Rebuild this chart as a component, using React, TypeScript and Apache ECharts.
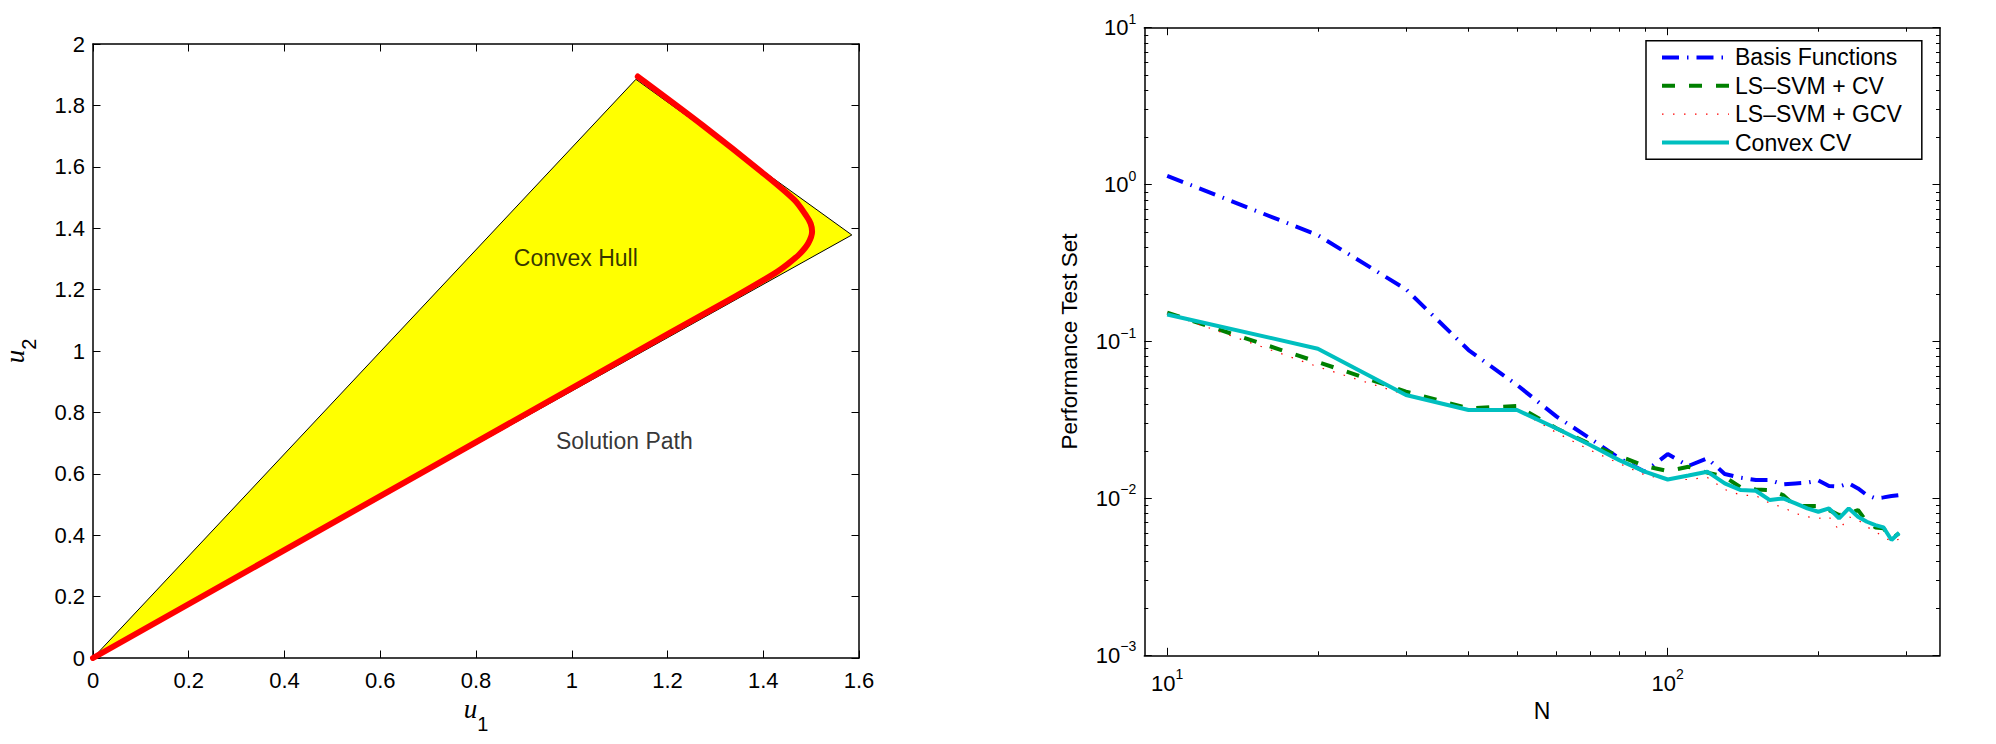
import React, { useEffect, useRef } from "react";
import * as echarts from "echarts";

// ---------- Left panel data ----------
const HULL_U1 = [0, 1.134, 1.585];
const HULL_U2 = [0, 1.885, 1.378];
const PATH_U1 = [0, 1.204, 1.341, 1.424, 1.451, 1.476, 1.494, 1.502, 1.499, 1.49, 1.465, 1.396, 1.273, 1.138];
const PATH_U2 = [0, 1.058, 1.177, 1.253, 1.283, 1.316, 1.351, 1.389, 1.415, 1.44, 1.492, 1.584, 1.736, 1.894];
const ANNOTATIONS = [
  { u1: 0.88, u2: 1.3, text: "Convex Hull" },
  { u1: 0.968, u2: 0.705, text: "Solution Path" },
];

// ---------- Right panel data ----------
const N_VALUES = [10, 20, 30, 40, 50, 60, 70, 80, 90, 100, 110, 120, 130, 140, 150, 160, 170, 180, 190, 200, 210, 220, 230, 240, 250, 260, 270, 280, 290];
const BASIS = [1.138, 0.476, 0.215, 0.0882, 0.0528, 0.0332, 0.0241, 0.018, 0.0148, 0.01916, 0.0161, 0.018, 0.01429, 0.01355, 0.01309, 0.0131, 0.01228, 0.01246, 0.0126, 0.013, 0.012, 0.0119, 0.01246, 0.01158, 0.0105, 0.01, 0.01015, 0.01035, 0.0105];
const LSSVM_CV = [0.1528, 0.074, 0.0479, 0.0375, 0.0388, 0.0279, 0.0222, 0.01862, 0.0161, 0.01493, 0.0159, 0.01459, 0.01374, 0.01175, 0.0114, 0.0113, 0.0105, 0.00894, 0.00894, 0.00894, 0.00843, 0.00783, 0.00802, 0.00843, 0.0071, 0.00653, 0.00644, 0.00556, 0.00598];
const LSSVM_GCV = [0.152, 0.069, 0.0456, 0.0369, 0.0369, 0.0262, 0.0203, 0.0167, 0.0141, 0.0132, 0.0132, 0.0136, 0.0114, 0.0105, 0.0104, 0.0093, 0.00877, 0.00802, 0.00764, 0.00746, 0.00764, 0.00628, 0.00764, 0.0073, 0.0066, 0.00613, 0.0057, 0.0053, 0.0055];
const CONVEX_CV = [0.1486, 0.09, 0.0456, 0.0366, 0.0366, 0.0279, 0.0219, 0.01754, 0.0148, 0.0132, 0.014, 0.0148, 0.01246, 0.0113, 0.01119, 0.00976, 0.01, 0.00929, 0.00864, 0.00822, 0.00864, 0.00746, 0.00864, 0.00764, 0.0071, 0.00676, 0.00653, 0.00543, 0.00604];
const SERIES_NAMES = ["Basis Functions", "LS–SVM + CV", "LS–SVM + GCV", "Convex CV"];

const X_MAJOR = [10, 100];
const X_MINOR = [20, 30, 40, 50, 60, 70, 80, 90, 200, 300];
const Y_MAJOR = [0.001, 0.01, 0.1, 1, 10];
const Y_MINOR: number[] = [];
[0.001, 0.01, 0.1, 1].forEach((d) => {
  for (let k = 2; k <= 9; k++) Y_MINOR.push(+(d * k).toPrecision(3));
});

const SANS = "'Liberation Sans', Arial, Helvetica, sans-serif";
const SERIF = "'Liberation Serif', 'Times New Roman', serif";

const LINE_STYLES = [
  { color: "#0000ff", width: 4, type: [17, 8, 1.5, 8] },
  { color: "#008000", width: 4, type: [13, 14] },
  { color: "#ff0000", width: 1.2, type: [1.5, 9.5] },
  { color: "#00bfbf", width: 4, type: "solid" },
];

const supFormatter = (v: number) => {
  const e = Math.round(Math.log10(v));
  const es = e < 0 ? "\u2212" + -e : String(e);
  return `{b|10}{e|${es}}`;
};
const supRich = {
  b: { fontSize: 22, fontFamily: SANS, color: "#000" },
  e: { fontSize: 14, fontFamily: SANS, color: "#000", padding: [0, 0, 18, 0] },
};

function buildOption(): any {
  const axisLine = { show: true, onZero: false, lineStyle: { color: "#000", width: 1.5 } };
  const noLine = { show: false, onZero: false };
  const majorTick = () => ({ show: true, inside: true, length: 7.5, lineStyle: { color: "#000", width: 1 } });
  const noTick = { show: false };
  const hiddenLabel = { show: false };
  const nameRich = {
    i: { fontFamily: SERIF, fontStyle: "italic", fontSize: 27, color: "#000" },
    s: { fontFamily: SANS, fontSize: 20, color: "#000", padding: [29, 0, 0, 0] },
  };

  const linX = (pos: string, labels: boolean) => ({
    type: "value", gridIndex: 0, position: pos, min: 0, max: 1.6, interval: 0.2,
    axisLine, axisTick: majorTick(), splitLine: { show: false },
    axisLabel: labels ? { show: true, fontSize: 22, fontFamily: SANS, color: "#000", margin: 11 } : hiddenLabel,
  });
  const linY = (pos: string) => ({
    type: "value", gridIndex: 0, position: pos, min: 0, max: 2, interval: 0.2,
    axisLine, axisTick: majorTick(), splitLine: { show: false }, axisLabel: hiddenLabel,
  });
  // labels and name of the left panel's y axis (kept on their own axis so the frame's ticks stay inside)
  const linYLabels = {
    type: "value", gridIndex: 0, position: "left", min: 0, max: 2, interval: 0.2,
    axisLine: noLine, axisTick: noTick, splitLine: { show: false },
    axisLabel: { show: true, fontSize: 22, fontFamily: SANS, color: "#000", margin: 8 },
    name: "{i|u}{s|2}", nameLocation: "middle", nameGap: 54, nameRotate: 90, nameTextStyle: { rich: nameRich },
  };

  const logX = (pos: string, minor: boolean, labels: boolean) => ({
    type: "log", logBase: 10, gridIndex: 1, position: pos, min: 9, max: 350,
    axisLine: minor ? noLine : axisLine,
    axisTick: minor
      ? { show: true, inside: true, length: 4, customValues: X_MINOR, lineStyle: { color: "#000", width: 1 } }
      : { ...majorTick(), customValues: X_MAJOR },
    splitLine: { show: false }, minorTick: { show: false },
    axisLabel: labels
      ? { show: true, customValues: X_MAJOR, formatter: supFormatter, rich: supRich, margin: 12 }
      : hiddenLabel,
  });
  const logY = (pos: string, minor: boolean) => ({
    type: "log", logBase: 10, gridIndex: 1, position: pos, min: 0.001, max: 10,
    axisLine: minor ? noLine : axisLine,
    axisTick: minor
      ? { show: true, inside: true, length: 4, customValues: Y_MINOR, lineStyle: { color: "#000", width: 1 } }
      : { ...majorTick(), customValues: Y_MAJOR },
    splitLine: { show: false }, minorTick: { show: false }, axisLabel: hiddenLabel,
  });
  const logYLabels = {
    type: "log", logBase: 10, gridIndex: 1, position: "left", min: 0.001, max: 10,
    axisLine: noLine, axisTick: noTick, splitLine: { show: false }, minorTick: { show: false },
    axisLabel: { show: true, customValues: Y_MAJOR, formatter: supFormatter, rich: supRich, margin: 8 },
    name: "Performance Test Set", nameLocation: "middle", nameGap: 63, nameRotate: 90,
    nameTextStyle: { fontFamily: SANS, fontSize: 22.5, color: "#000" },
  };

  const xAxis: any[] = [
    { ...linX("bottom", true), name: "{i|u}{s|1}", nameLocation: "middle", nameGap: 22, nameTextStyle: { rich: nameRich } },
    linX("top", false),
    { ...logX("bottom", false, true), name: "N", nameLocation: "middle", nameGap: 43, nameTextStyle: { fontFamily: SANS, fontSize: 23, color: "#000" } },
    logX("top", false, false),
    logX("bottom", true, false),
    logX("top", true, false),
  ];
  // 0,1: left panel frame; 2: left panel labels; 3,4: log frame; 5,6: log minor ticks; 7: log labels
  const yAxis: any[] = [
    linY("left"),
    linY("right"),
    linYLabels,
    logY("left", false),
    logY("right", false),
    logY("left", true),
    logY("right", true),
    logYLabels,
  ];

  const logData = (vals: number[]) => N_VALUES.map((n, i) => [n, vals[i]]);
  const seriesVals = [BASIS, LSSVM_CV, LSSVM_GCV, CONVEX_CV];

  return {
    animation: false,
    backgroundColor: "#fff",
    grid: [
      { left: 81, top: 44, width: 778, height: 614, containLabel: false },
      { left: 1144.3, top: 27.7, width: 795.7, height: 627.6, containLabel: false },
    ],
    xAxis,
    yAxis,
    legend: {
      show: true,
      orient: "vertical",
      left: 1646,
      top: 40.7,
      data: SERIES_NAMES.map((n, i) => ({ name: n, lineStyle: { ...LINE_STYLES[i] }, itemStyle: { opacity: 0 } })),
      selectedMode: false,
      itemWidth: 67,
      itemHeight: 14,
      itemGap: 5,
      padding: [5, 20, 5, 14],
      borderColor: "#000",
      borderWidth: 1.5,
      backgroundColor: "#fff",
      itemStyle: { opacity: 0 },
      textStyle: { fontFamily: SANS, fontSize: 23, color: "#000", lineHeight: 23.4, padding: [0, 0, 0, 1] },
    },
    series: [
      {
        type: "custom",
        xAxisIndex: 0, yAxisIndex: 0,
        data: HULL_U1.map((u, i) => [u, HULL_U2[i]]),
        renderItem: (params: any, api: any) => {
          if (params.dataIndex !== 0) return null;
          const pts = HULL_U1.map((u, i) => api.coord([u, HULL_U2[i]]));
          return { type: "polygon", shape: { points: pts }, style: { fill: "#ffff00", stroke: "#000", lineWidth: 1 } };
        },
        silent: true,
        z: 1,
      },
      {
        type: "line",
        xAxisIndex: 0, yAxisIndex: 0,
        data: PATH_U1.map((u, i) => [u, PATH_U2[i]]),
        symbol: "none",
        smooth: 0.3,
        lineStyle: { color: "#ff0000", width: 6, cap: "round", join: "round" },
        z: 3,
      },
      {
        type: "scatter",
        xAxisIndex: 0, yAxisIndex: 0,
        data: ANNOTATIONS.map((a) => [a.u1, a.u2, a.text]),
        symbol: "circle",
        symbolSize: 1,
        itemStyle: { color: "rgba(0,0,0,0)" },
        label: {
          show: true, position: [0, 0], align: "left", verticalAlign: "middle",
          formatter: (p: any) => p.value[2],
          fontFamily: SANS, fontSize: 23, color: "#000",
        },
        z: 4,
      },
      ...SERIES_NAMES.map((name, i) => ({
        name, type: "line", xAxisIndex: 2, yAxisIndex: 3,
        data: logData(seriesVals[i]), symbol: "none",
        itemStyle: { color: LINE_STYLES[i].color },
        lineStyle: { ...LINE_STYLES[i] },
        z: 2 + i,
      })),
    ],
  };
}

export default function App() {
  const ref = useRef<HTMLDivElement>(null);
  useEffect(() => {
    if (!ref.current) return;
    const chart = echarts.init(ref.current, null, { renderer: "svg" });
    chart.setOption(buildOption());
    return () => chart.dispose();
  }, []);
  return <div ref={ref} style={{ position: "absolute", left: 0, top: 0, width: 1996, height: 744, background: "#fff" }} />;
}
